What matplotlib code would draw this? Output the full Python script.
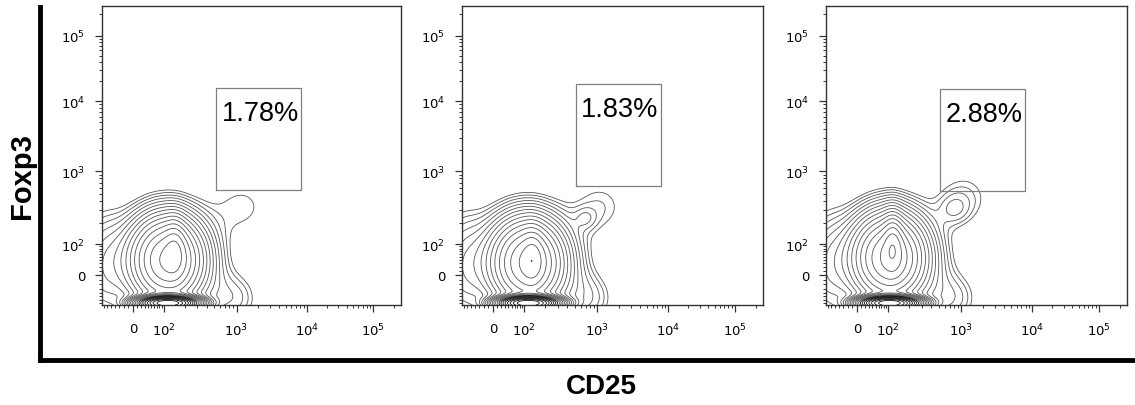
import matplotlib
matplotlib.use('Agg')
import matplotlib.pyplot as plt
import numpy as np
from matplotlib.lines import Line2D

# display scale: asinh, pinned at the cytometer's decade ticks
W_LIN = 61.0
knot_vals = np.array([-5000, -76.5, 0, 100, 1000, 10000, 100000, 256000, 1e7])
knot_t = np.arcsinh(knot_vals / W_LIN)
knot_ux = np.array([-0.40, 0.0, 0.104, 0.207, 0.45, 0.686, 0.906, 1.0, 1.36])
knot_uy = np.array([-0.40, 0.0, 0.100, 0.204, 0.448, 0.682, 0.900, 1.0, 1.36])


def make_scale(knot_u):
    def fwd(v):
        return np.interp(np.arcsinh(np.asarray(v, dtype=float) / W_LIN), knot_t, knot_u)

    def inv(u):
        return W_LIN * np.sinh(np.interp(np.asarray(u, dtype=float), knot_u, knot_t))
    return fwd, inv


fwd_x, inv_x = make_scale(knot_ux)
fwd_y, inv_y = make_scale(knot_uy)
LO, HI = -76.5, 256000

percents = ['1.78%', '1.83%', '2.88%']

# gate boxes: CD25 low/high, Foxp3 low/high
gate_cd25 = [(531, 8120), (517, 7740), (524, 7820)]
gate_foxp3 = [(562, 15870), (634, 18200), (542, 15200)]

# populations per panel: centre (CD25, Foxp3), spread (axis fraction), weight
# main, core, dense bottom, left off-scale, halo, Treg, Treg broad, CD25+ low
pop_cd25 = [
    [115, 148, 115, -76, 91, 1215, 1215, 912],
    [115, 135, 115, -76, 91, 693, 1101, 759],
    [104, 118, 104, -76, 91, 795, 1101, 759],
]
pop_foxp3 = [
    [40, 81, -70, 15, 40, 340, 340, -57],
    [31, 49, -70, 15, 40, 234, 340, -57],
    [48, 107, -70, 15, 40, 310, 447, -57],
]
pop_sx = [
    [0.075, 0.022, 0.05, 0.05, 0.12, 0.075, 0.065, 0.06],
    [0.075, 0.022, 0.05, 0.05, 0.12, 0.025, 0.07, 0.06],
    [0.075, 0.020, 0.05, 0.05, 0.12, 0.035, 0.07, 0.06],
]
pop_sy = [
    [0.09, 0.06, 0.012, 0.13, 0.11, 0.07, 0.065, 0.06],
    [0.09, 0.06, 0.012, 0.13, 0.11, 0.025, 0.07, 0.06],
    [0.09, 0.06, 0.012, 0.13, 0.11, 0.035, 0.07, 0.06],
]
pop_w = [
    [1.0, 0.25, 10.0, 0.1, 0.15, 0.055, 0.0, 0.08],
    [1.0, 0.25, 10.0, 0.1, 0.15, 0.045, 0.06, 0.08],
    [1.0, 0.35, 10.0, 0.1, 0.15, 0.05, 0.065, 0.08],
]

major_vals = [0, 100, 1000, 10000, 100000]
major_labels = ['0', '$10^2$', '$10^3$', '$10^4$', '$10^5$']
minor_vals = ([-k * 10 for k in range(1, 8)] + [k * 10 for k in range(1, 10)]
              + [k * 100 for k in range(2, 10)] + [k * 1000 for k in range(2, 10)]
              + [k * 10000 for k in range(2, 10)] + [200000])

panel_left = [102, 462, 826]
panel_width = [299, 301, 301]

fig = plt.figure(figsize=(11.35, 4.06), dpi=100)

ug = np.linspace(0, 1, 600)
UX, UY = np.meshgrid(ug, ug)
levels = np.logspace(np.log10(0.05), np.log10(8), 24)
# dense levels (only reached by the bottom cluster) look black on the original
level_colors = ['#111111' if lv > 1.6 else '#555555' for lv in levels]

for i in range(3):
    ax = fig.add_axes([panel_left[i] / 1135, 100 / 406, panel_width[i] / 1135, 299 / 406])
    ax.set_xscale('function', functions=(fwd_x, inv_x))
    ax.set_yscale('function', functions=(fwd_y, inv_y))

    Z = np.zeros_like(UX)
    for cx, cy, sx, sy, w in zip(pop_cd25[i], pop_foxp3[i], pop_sx[i], pop_sy[i], pop_w[i]):
        Z += w * np.exp(-0.5 * (((UX - fwd_x(cx)) / sx) ** 2 + ((UY - fwd_y(cy)) / sy) ** 2))
    ax.contour(inv_x(UX), inv_y(UY), Z, levels=levels, colors=level_colors, linewidths=0.6)

    x0, x1 = gate_cd25[i]
    y0, y1 = gate_foxp3[i]
    ax.plot([x0, x1, x1, x0, x0], [y0, y0, y1, y1, y0], color='#808080', lw=0.9)
    ax.annotate(percents[i], xy=(x0, y1), xytext=(4, -18), textcoords='offset points',
                ha='left', va='center', fontsize=19.5, family=['Liberation Sans', 'DejaVu Sans'])

    ax.set_xlim(LO, HI)
    ax.set_ylim(LO, HI)
    ax.set_xticks(major_vals, major_labels)
    ax.set_yticks(major_vals, major_labels)
    ax.set_xticks(minor_vals, minor=True)
    ax.set_yticks(minor_vals, minor=True)
    ax.tick_params(which='major', length=5, width=0.9, direction='out', color='#333333',
                   labelsize=9.5, pad=7)
    ax.tick_params(which='minor', length=2.5, width=0.7, direction='out', color='#333333')
    for s in ax.spines.values():
        s.set_color('#333333')
        s.set_linewidth(1.0)

# big L-shaped axis around all panels
fig.add_artist(Line2D([40 / 1135, 40 / 1135], [1 - 8 / 406, 1 - 361 / 406],
                      transform=fig.transFigure, color='black', lw=3.5, solid_capstyle='projecting'))
fig.add_artist(Line2D([40 / 1135, 1133 / 1135], [1 - 361 / 406, 1 - 361 / 406],
                      transform=fig.transFigure, color='black', lw=3.5, solid_capstyle='projecting'))

fig.text(22 / 1135, 1 - 176 / 406, 'Foxp3', rotation=90, ha='center', va='center',
         fontsize=21, fontweight='bold', family=['Liberation Sans', 'DejaVu Sans'])
fig.text(601 / 1135, 1 - 387 / 406, 'CD25', ha='center', va='center',
         fontsize=20, fontweight='bold', family=['Liberation Sans', 'DejaVu Sans'])

fig.savefig('out.png', dpi=100)
